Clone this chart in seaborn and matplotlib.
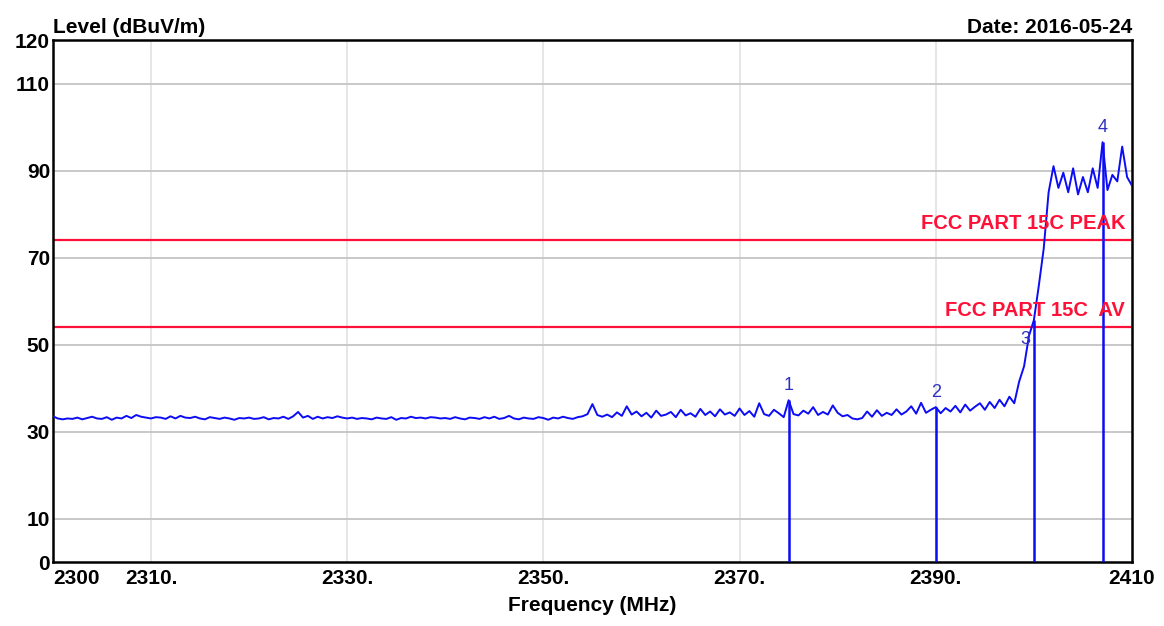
import numpy as np
import pandas as pd
import matplotlib
matplotlib.use('Agg')
import matplotlib.pyplot as plt
import seaborn as sns

# sweep 2300..2410 MHz, 0.5 MHz step
freq_start, freq_stop, freq_step = 2300.0, 2410.0, 0.5

# level readings (dBuV/m)
level = [
    33.5, 33.0, 32.8, 33.0, 32.9, 33.2, 32.8, 33.1, 33.4, 33.0,
    32.9, 33.3, 32.7, 33.2, 33.0, 33.6, 33.1, 33.8, 33.4, 33.2,
    33.0, 33.3, 33.2, 32.9, 33.5, 33.0, 33.6, 33.2, 33.1, 33.4,
    33.0, 32.8, 33.3, 33.1, 32.9, 33.2, 33.0, 32.7, 33.1, 33.0,
    33.2, 32.9, 33.0, 33.3, 32.8, 33.1, 33.0, 33.4, 32.9, 33.5,
    34.5, 33.2, 33.6, 32.9, 33.4, 33.0, 33.3, 33.1, 33.5, 33.2,
    33.0, 33.2, 32.9, 33.1, 33.0, 32.8, 33.2, 33.0, 32.9, 33.3,
    32.7, 33.1, 33.0, 33.4, 33.1, 33.2, 33.0, 33.3, 33.2, 33.0,
    33.1, 32.9, 33.3, 33.0, 32.8, 33.2, 33.1, 32.9, 33.3, 33.0,
    33.4, 32.9, 33.1, 33.6, 33.0, 32.8, 33.2, 33.0, 32.9, 33.3,
    33.1, 32.7, 33.2, 33.0, 33.4, 33.1, 32.9, 33.3, 33.5, 34.0,
    36.3, 33.8, 33.4, 33.9, 33.3, 34.4, 33.6, 35.8, 33.9, 34.6,
    33.5, 34.3, 33.2, 34.8, 33.6, 33.9, 34.5, 33.3, 35.0, 33.7,
    34.2, 33.4, 35.2, 33.8, 34.6, 33.5, 35.1, 33.9, 34.4, 33.6,
    35.3, 33.8, 34.7, 33.4, 36.5, 34.0, 33.6, 35.0, 34.2, 33.3,
    37.2, 34.0, 33.7, 34.8, 34.1, 35.6, 33.8, 34.5, 33.9, 36.0,
    34.3, 33.5, 33.8, 33.0, 32.8, 33.1, 34.6, 33.4, 34.9, 33.6,
    34.3, 33.8, 35.1, 33.9, 34.6, 35.8, 34.1, 36.6, 34.3, 35.0,
    35.6, 34.2, 35.4, 34.6, 35.9, 34.4, 36.2, 34.8, 35.7, 36.5,
    35.0, 36.8, 35.4, 37.3, 35.8, 38.0, 36.5, 41.5, 45.0, 52.0,
    55.6, 63.5, 72.0, 85.0, 91.0, 86.0, 89.5, 85.0, 90.5, 84.5,
    88.5, 85.0, 90.5, 86.0, 96.5, 85.5, 89.0, 87.5, 95.5, 88.5,
    86.5,
]

marker_ids = ['1', '2', '3', '4']
marker_freq = [2375.0, 2390.0, 2400.0, 2407.0]
marker_level = [37.2, 35.6, 55.6, 96.5]

limit_names = ['FCC PART 15C PEAK', 'FCC PART 15C  AV']
limit_values = [74, 54]

y_ticks = [0, 10, 30, 50, 70, 90, 110, 120]
x_ticks = [2300, 2310, 2330, 2350, 2370, 2390, 2410]
x_labels = ['2300', '2310.', '2330.', '2350.', '2370.', '2390.', '2410']

freq = np.arange(freq_start, freq_stop + freq_step / 2, freq_step)
df = pd.DataFrame({'Frequency': freq, 'Level': level})

sns.set_style('white')
plt.rcParams['font.family'] = ['Liberation Sans', 'DejaVu Sans']
plt.rcParams['font.weight'] = 'bold'
plt.rcParams['text.color'] = 'black'
plt.rcParams['xtick.color'] = 'black'
plt.rcParams['ytick.color'] = 'black'
plt.rcParams['axes.labelcolor'] = 'black'

fig = plt.figure(figsize=(11.64, 6.26), dpi=100)
ax = fig.add_axes([0.0454, 0.1022, 0.9271, 0.8339])

trace_blue = '#0c0cf5'
limit_red = '#ff1038'

for f in x_ticks[1:-1]:
    ax.axvline(f, color='#e2e2e2', lw=1.2, zorder=0)
for v in y_ticks[1:-1]:
    ax.axhline(v, color='#c4c4c4', lw=1.3, zorder=0)

for name, v in zip(limit_names, limit_values):
    ax.axhline(v, color=limit_red, lw=1.6, zorder=2)
    ax.text(2409.3, v + 1.6, name, color=limit_red, fontsize=14.5,
            fontweight='bold', ha='right', va='bottom', zorder=4)

sns.lineplot(data=df, x='Frequency', y='Level', ax=ax, color=trace_blue,
             lw=1.4, zorder=3)

ax.vlines(marker_freq, 0, marker_level, color=trace_blue, lw=1.8, zorder=3)
for mid, f, v in zip(marker_ids, marker_freq, marker_level):
    if mid == '3':
        # tucked under the AV limit text
        ax.text(f - 0.4, 53.0, mid, color='#3030c0', fontsize=13,
                ha='right', va='top', fontweight='normal', zorder=4)
    else:
        ax.text(f, v + 1.5, mid, color='#3030c0', fontsize=13,
                ha='center', va='bottom', fontweight='normal', zorder=4)

ax.set_xlim(freq_start, freq_stop)
ax.set_ylim(0, 120)
ax.set_yticks(y_ticks)
ax.set_yticklabels([str(t) for t in y_ticks], fontsize=15, fontweight='bold')
ax.set_xticks(x_ticks)
ax.set_xticklabels(x_labels, fontsize=15, fontweight='bold')
ax.get_xticklabels()[0].set_horizontalalignment('left')
ax.tick_params(axis='both', length=0, pad=2)
ax.tick_params(axis='x', pad=5)

for s in ax.spines.values():
    s.set_visible(True)
    s.set_color('black')
    s.set_linewidth(1.8)

ax.set_xlabel('Frequency (MHz)', fontsize=15, fontweight='bold', labelpad=6)
ax.set_ylabel('')
ax.text(0.0, 1.005, 'Level (dBuV/m)', transform=ax.transAxes, fontsize=15,
        fontweight='bold', ha='left', va='bottom')
ax.text(1.0, 1.005, 'Date: 2016-05-24', transform=ax.transAxes, fontsize=15,
        fontweight='bold', ha='right', va='bottom')

fig.savefig('out.png', dpi=100, facecolor='white')
